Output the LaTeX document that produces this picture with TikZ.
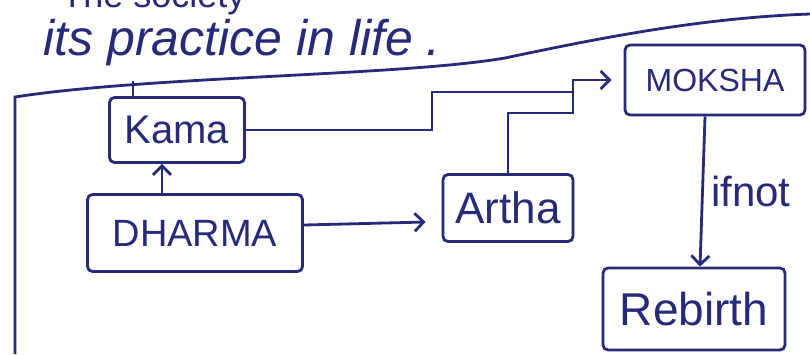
\documentclass[tikz,border=0pt]{standalone}
\usepackage{fontspec}
\setmainfont{Liberation Sans}
\usetikzlibrary{arrows.meta}
\definecolor{ink}{RGB}{38,42,120}
\begin{document}
\begin{tikzpicture}[x=1pt,y=-1pt,
  line width=2.8pt, draw=ink, text=ink,
  box/.style={draw=ink, rounded corners=5pt, inner sep=0pt},
  arr/.style={-{Straight Barb[length=9pt,width=18pt,line width=2.8pt]}}]
\useasboundingbox (0,0) rectangle (810,354);
\fill[white] (0,0) rectangle (810,354);
% partially visible heading
\node[anchor=base west, font=\fontsize{36}{38}\selectfont, text=ink, inner sep=0pt] (head) at (60,7) {The society};
\node[anchor=base west, font=\fontsize{50}{52}\selectfont\itshape, text=ink, inner sep=0pt] (prac) at (42,55) {its practice in life .};
% frame line
\coordinate (tl) at (15,97);
\coordinate (bl) at (15,354);
\coordinate (tr) at (810,14);
\draw (bl) -- (tl) .. controls (150,76) and (400,76) .. (505,58) .. controls (600,38) and (700,18) .. (tr);
% boxes
\node[box, minimum width=135pt, minimum height=65pt, font=\fontsize{40}{42}\selectfont] (kama) at (177,130) {Kama};
\node[box, minimum width=215pt, minimum height=77pt, font=\fontsize{38}{40}\selectfont] (dharma) at (195,233) {DHARMA};
\node[box, minimum width=130pt, minimum height=67pt, font=\fontsize{44}{46}\selectfont] (artha) at (508,208) {Artha};
\node[box, minimum width=180pt, minimum height=70pt, font=\fontsize{32}{34}\selectfont] (moksha) at (715,80) {MOKSHA};
\node[box, minimum width=182pt, minimum height=82pt, font=\fontsize{46}{48}\selectfont] (rebirth) at (694,309) {Rebirth};
% kama to frame
\coordinate (kt) at (133,81);
\draw ([xshift=-44pt]kama.north) -- (kt);
% dharma -> kama
\draw[arr] ([xshift=-33pt]dharma.north) -- ([xshift=-15pt]kama.south);
% dharma -> artha
\draw[arr] ([yshift=8pt]dharma.east) -- ([yshift=-14pt,xshift=-16pt]artha.west);
% kama -> moksha
\coordinate (ja) at (432,92);
\coordinate (jb) at (573,92);
\coordinate (jc) at (573,113);
\draw[arr] (kama.east) -| (ja) -- (jb) |- ([xshift=-12pt]moksha.west);
% artha -> join
\draw (artha.north) |- (jc) -- (jb);
% moksha -> rebirth
\draw[arr] ([xshift=-10pt]moksha.south) -- node[right=4pt, font=\fontsize{42}{44}\selectfont, text=ink] (ifnot) {ifnot} ([xshift=6pt]rebirth.north);
\end{tikzpicture}
\end{document}
